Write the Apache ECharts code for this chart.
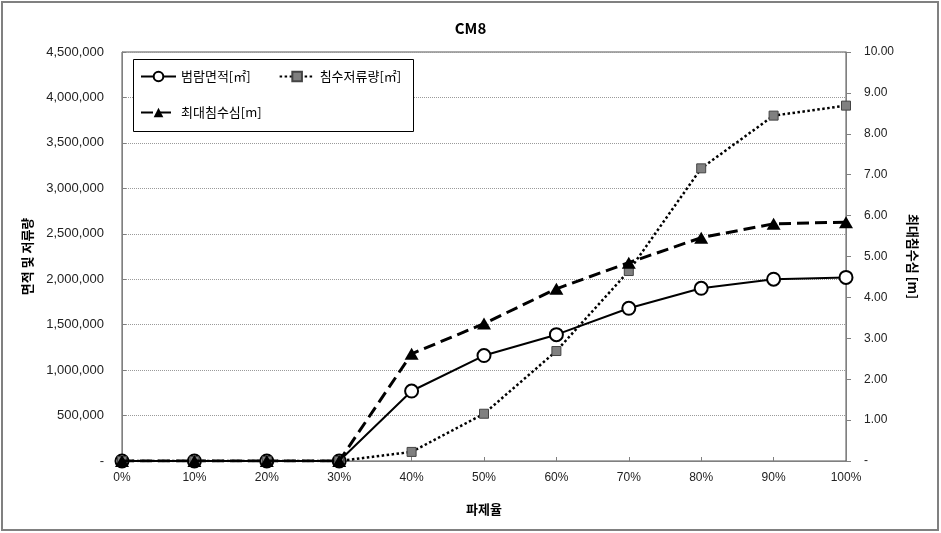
<!DOCTYPE html>
<html>
<head>
<meta charset="utf-8">
<script src="https://cdn.jsdelivr.net/npm/echarts@6/dist/echarts.min.js"></script>
<style>
html,body{margin:0;padding:0;background:#fff;}
#chart{width:941px;height:533px;}
</style>
</head>
<body>
<div id="chart"></div>
<script>
const categories = ['0%','10%','20%','30%','40%','50%','60%','70%','80%','90%','100%'];
const floodArea = [0, 0, 0, 0, 770000, 1160000, 1390000, 1680000, 1900000, 2000000, 2020000];
const storage = [0, 0, 0, 0, 100000, 520000, 1210000, 2090000, 3220000, 3800000, 3910000];
const maxDepth = [0, 0, 0, 0, 2.62, 3.36, 4.21, 4.85, 5.46, 5.80, 5.84];
const seriesNames = ['범람면적[㎡]', '침수저류량[㎡]', '최대침수심[m]'];
const titleText = 'CM8';
const leftAxisName = '면적 및 저류량';
const rightAxisName = '최대침수심 [m]';
const xAxisName = '파제율';

const numFont = '"Liberation Sans", Arial, sans-serif';
const krFont = '"Noto Sans CJK KR", "Noto Sans", sans-serif';

const chart = echarts.init(document.getElementById('chart'));
chart.setOption({
  backgroundColor: '#fff',
  animation: false,
  title: {
    text: titleText, left: 'center', top: 16,
    textStyle: {fontFamily: krFont, fontWeight: 'bold', fontSize: 15, color: '#000'}
  },
  graphic: [
    {type: 'rect', shape: {x: 2, y: 2, width: 936, height: 528}, style: {fill: 'none', stroke: '#808080', lineWidth: 2}, z: 1},
    {type: 'rect', shape: {x: 133.5, y: 59.5, width: 280, height: 72}, style: {fill: '#fff', stroke: '#000', lineWidth: 1}, z: 3}
  ],
  legend: [
    {data: [seriesNames[0], seriesNames[1]], left: 140, top: 70, padding: 0, itemWidth: 35, itemHeight: 12, itemGap: 28,
     textStyle: {fontFamily: krFont, fontSize: 13, color: '#000'}, z: 10},
    {data: [seriesNames[2]], left: 140, top: 106, padding: 0, itemWidth: 35, itemHeight: 12,
     textStyle: {fontFamily: krFont, fontSize: 13, color: '#000'}, z: 10}
  ],
  grid: {left: 122, right: 95, top: 52, bottom: 72, show: true, borderColor: '#555', borderWidth: 1},
  xAxis: {
    type: 'category', data: categories, boundaryGap: false,
    name: xAxisName, nameLocation: 'middle', nameGap: 42,
    nameTextStyle: {fontFamily: krFont, fontWeight: 'bold', fontSize: 13, color: '#000'},
    axisLine: {lineStyle: {color: '#808080', width: 1}},
    axisTick: {inside: true, length: 4, lineStyle: {color: '#808080'}},
    axisLabel: {fontFamily: numFont, fontSize: 12, color: '#222', margin: 11},
    splitLine: {show: false}
  },
  yAxis: [
    {
      type: 'value', min: 0, max: 4500000, interval: 500000,
      name: leftAxisName, nameLocation: 'middle', nameGap: 88, nameRotate: 90,
      nameTextStyle: {fontFamily: krFont, fontWeight: 'bold', fontSize: 13, color: '#000'},
      axisLine: {show: true, lineStyle: {color: '#808080'}},
      axisTick: {show: true, inside: true, length: 4, lineStyle: {color: '#808080'}},
      axisLabel: {fontFamily: numFont, fontSize: 13, color: '#222', margin: 18,
        formatter: v => v === 0 ? '-' : v.toLocaleString('en-US')},
      splitLine: {show: true, lineStyle: {color: '#9a9a9a', type: [1, 1], width: 1}}
    },
    {
      type: 'value', min: 0, max: 10, interval: 1, position: 'right',
      name: rightAxisName, nameLocation: 'middle', nameGap: 60, nameRotate: -90,
      nameTextStyle: {fontFamily: krFont, fontWeight: 'bold', fontSize: 13, color: '#000'},
      axisLine: {show: true, lineStyle: {color: '#808080'}},
      axisTick: {show: true, inside: false, length: 5, lineStyle: {color: '#808080'}},
      axisLabel: {fontFamily: numFont, fontSize: 12, color: '#222', margin: 18,
        formatter: v => v === 0 ? '-' : v.toFixed(2)},
      splitLine: {show: false}
    }
  ],
  series: [
    {
      name: seriesNames[0], type: 'line', data: floodArea, yAxisIndex: 0,
      symbol: 'circle', symbolSize: 13, showAllSymbol: true,
      lineStyle: {color: '#000', width: 2, type: 'solid'},
      itemStyle: {color: '#fff', borderColor: '#000', borderWidth: 2},
      z: 3
    },
    {
      name: seriesNames[1], type: 'line', data: storage, yAxisIndex: 0,
      symbol: 'rect', symbolSize: 9, showAllSymbol: true,
      lineStyle: {color: '#000', width: 2.5, type: [2.5, 2.5]},
      itemStyle: {color: '#808080', borderColor: '#444', borderWidth: 1},
      z: 4
    },
    {
      name: seriesNames[2], type: 'line', data: maxDepth, yAxisIndex: 1,
      symbol: 'triangle', symbolSize: [14, 12], showAllSymbol: true,
      lineStyle: {color: '#000', width: 3, type: [12, 6]},
      itemStyle: {color: '#000', borderColor: '#000', borderWidth: 0},
      z: 5
    }
  ]
});
</script>
</body>
</html>
